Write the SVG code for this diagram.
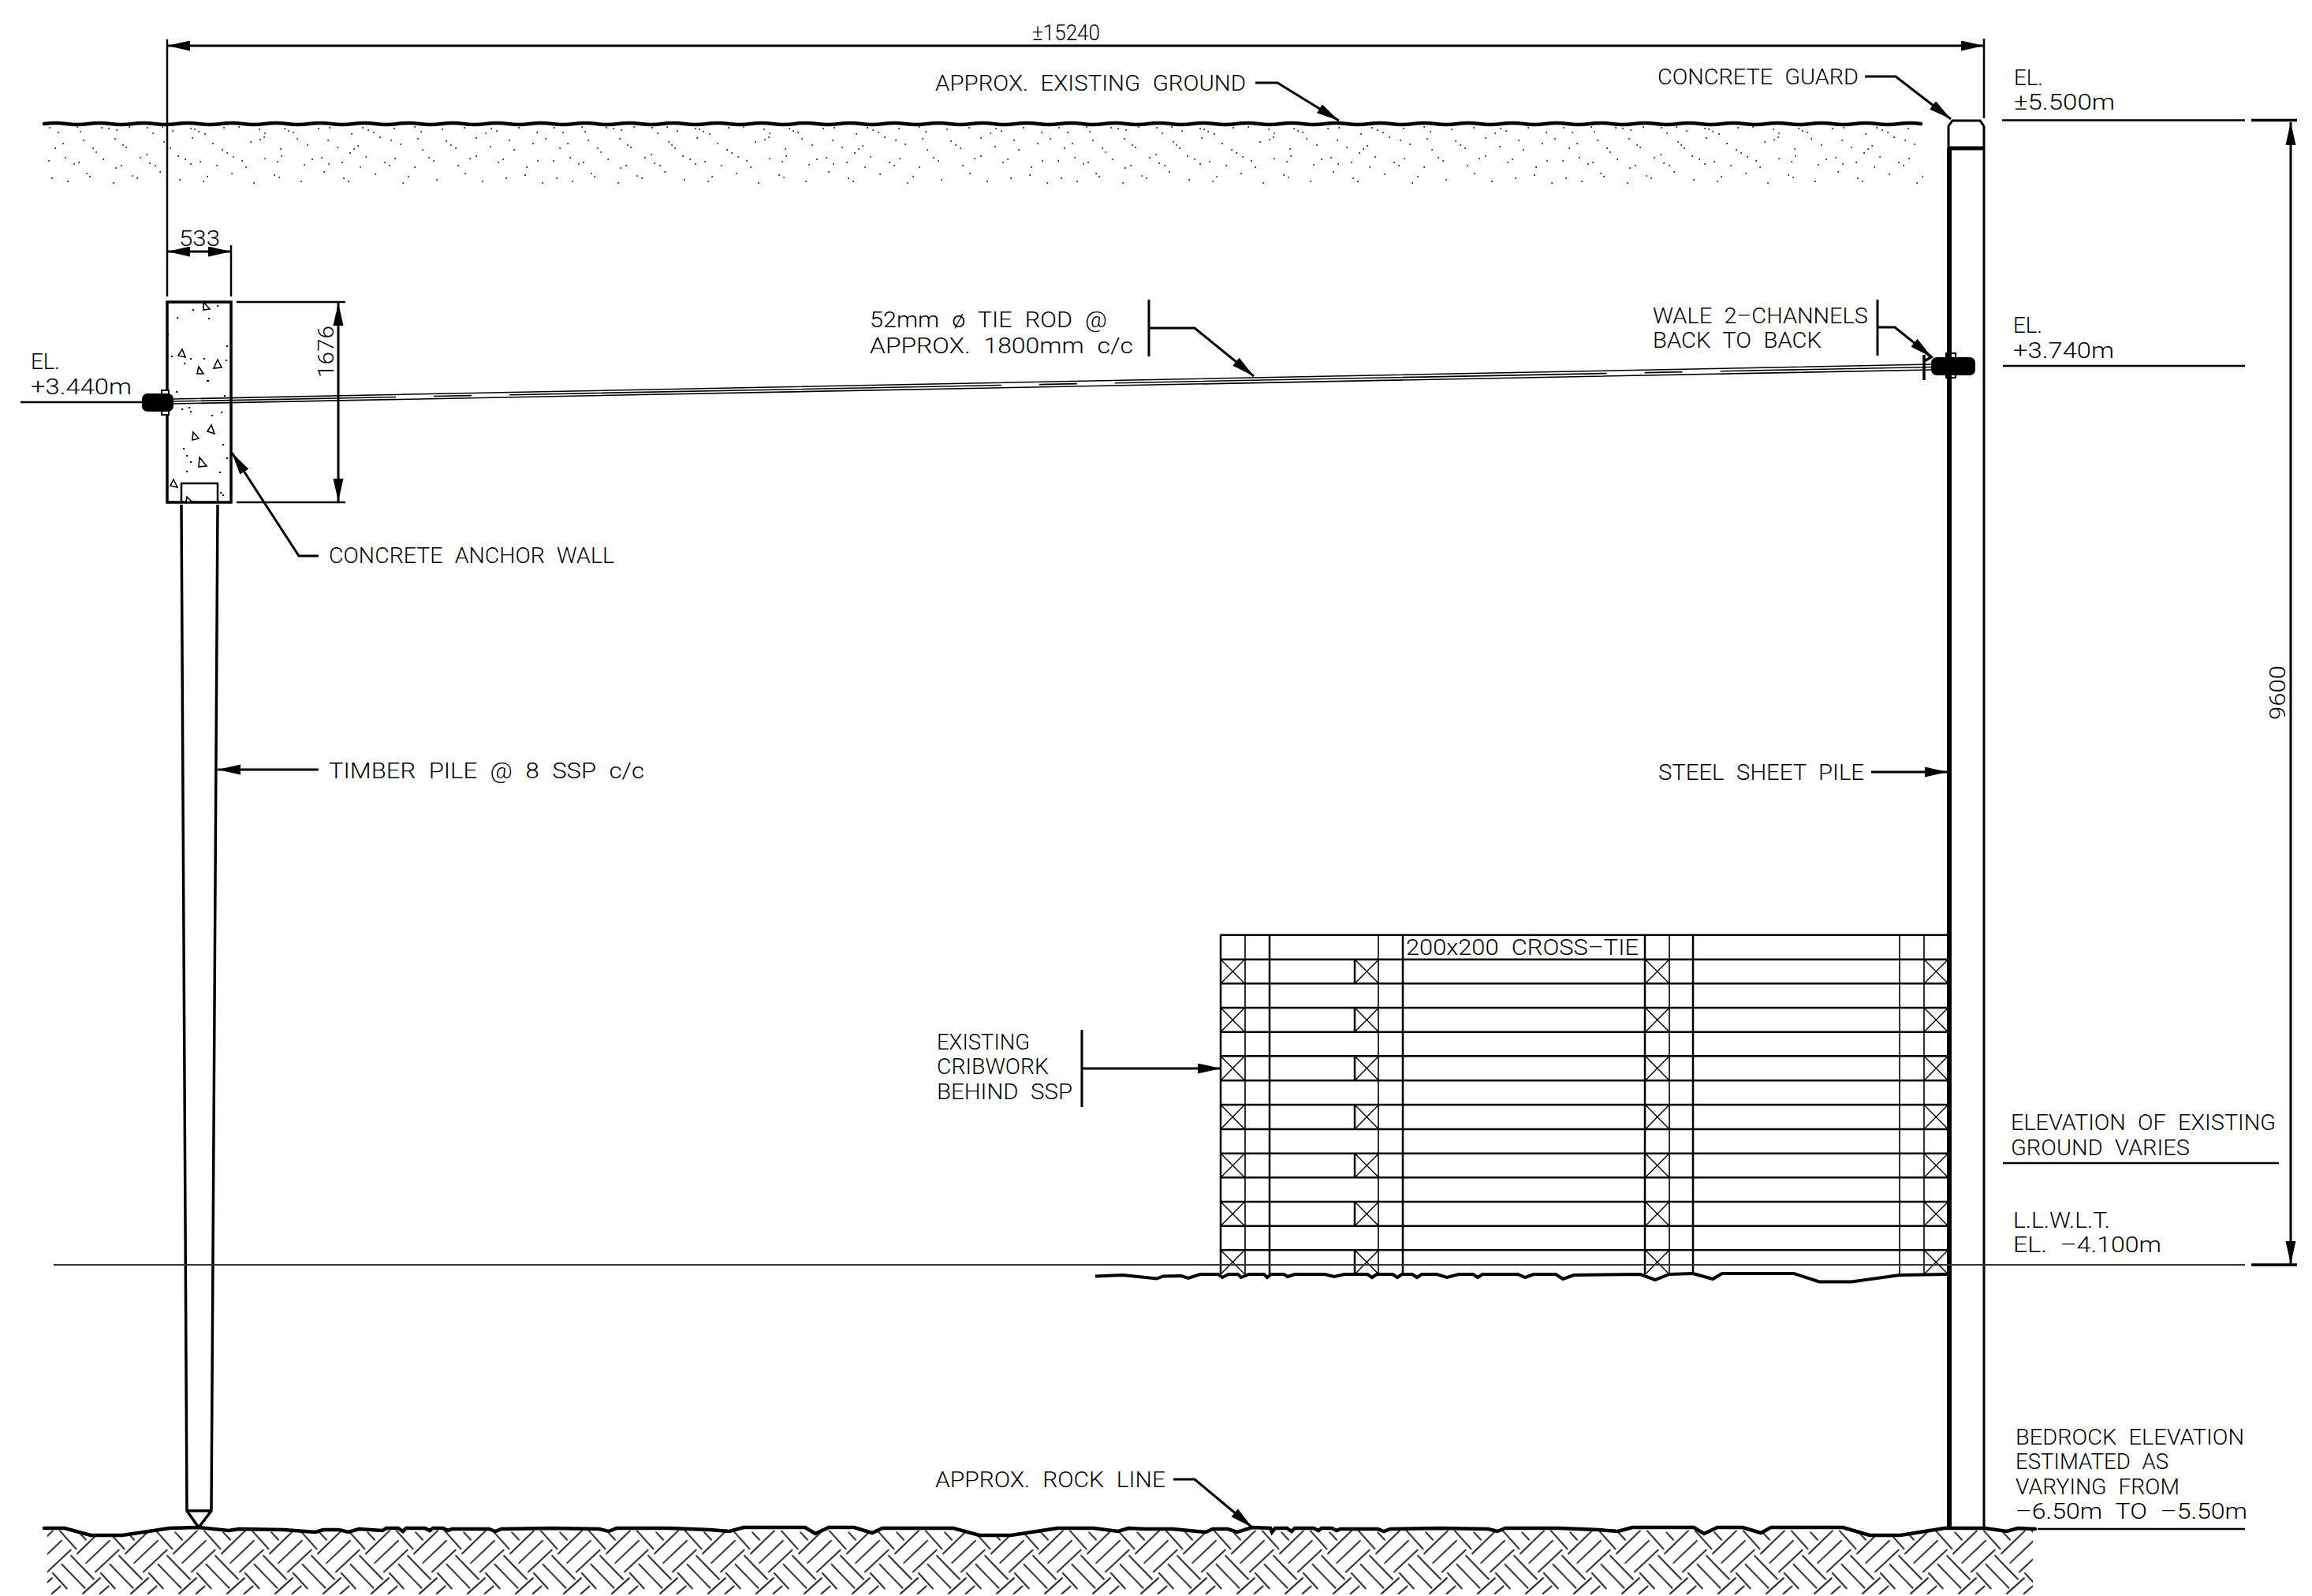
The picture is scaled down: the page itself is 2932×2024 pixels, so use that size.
<svg xmlns="http://www.w3.org/2000/svg" xmlns:xlink="http://www.w3.org/1999/xlink" width="2932" height="2024" viewBox="0 0 2932 2024">
<style>
text{font-family:Roboto,"Liberation Sans",sans-serif;font-weight:300;font-size:28px;fill:#000;word-spacing:8px}
.l{fill:none;stroke:#000;stroke-width:2.5}
.thin{fill:none;stroke:#000;stroke-width:1.6}
.thick{fill:none;stroke:#000;stroke-width:3.5}
.dim{fill:none;stroke:#000;stroke-width:3}
.arr{marker-end:url(#ah)}
.dbl{marker-start:url(#ahs);marker-end:url(#ah)}
.tri{fill:#fff;stroke:#000;stroke-width:1.6}
.nut{fill:#000}
.wash{fill:#fff;stroke:#000;stroke-width:2}
.box{fill:none;stroke:#000;stroke-width:1.4}
</style>
<defs>
<marker id="ah" markerUnits="userSpaceOnUse" markerWidth="30" markerHeight="14" refX="29" refY="6.5" orient="auto"><path d="M0 0L29 6.5L0 13z" fill="#000"/></marker>
<marker id="ahs" markerUnits="userSpaceOnUse" markerWidth="30" markerHeight="14" refX="0" refY="6.5" orient="auto"><path d="M29 0L0 6.5L29 13z" fill="#000"/></marker>
<path id="motif" fill="none" stroke="#000" stroke-width="1.7" d="M0 30.3L31.3 0M11.3 42L42.3 12.7M23 53.3L54 24.3M53.3 31.7L83.3 62.7M41.7 42.7L71.7 73.7M30 53.7L49 74.3M39 0L60.7 24.3M63.3 2L73.3 12.7M68 81L91.3 60M28.7 81L41 70.3"/>
<pattern id="herring" patternUnits="userSpaceOnUse" x="219.33" y="1940.67" width="61" height="84">
<use xlink:href="#motif" href="#motif"/><use xlink:href="#motif" href="#motif" x="-61"/>
</pattern>
<pattern id="stipple" patternUnits="userSpaceOnUse" x="56" y="160" width="640" height="74">
<path fill="none" stroke="#000" stroke-width="1.4" stroke-linecap="square" d="M7 2h.3M18 8h.3M42 1h.3M46 7h.3M73 2h.3M82 3h.3M92 5h.3M108 1h.3M131 2h.3M138 9h.3M150 1h.3M163 6h.3M186 3h.3M191 4h.3M196 7h.3M204 10h.3M228 2h.3M247 1h.3M273 4h.3M280 9h.3M305 3h.3M310 6h.3M316 8h.3M348 3h.3M362 2h.3M390 10h.3M404 2h.3M411 5h.3M418 8h.3M444 3h.3M470 1h.3M478 7h.3M505 4h.3M533 2h.3M560 9h.3M567 3h.3M574 6h.3M602 2h.3M625 8h.3M14 28h.3M24 22h.3M50 18h.3M62 28h.3M66 33h.3M90 16h.3M100 24h.3M104 27h.3M130 36h.3M152 20h.3M156 24h.3M160 28h.3M188 15h.3M214 22h.3M226 30h.3M232 34h.3M262 20h.3M274 17h.3M279 14h.3M300 29h.3M321 16h.3M334 24h.3M360 18h.3M372 27h.3M388 34h.3M393 29h.3M398 25h.3M426 14h.3M440 18h.3M452 23h.3M474 16h.3M480 30h.3M510 19h.3M516 24h.3M522 28h.3M548 15h.3M566 26h.3M590 18h.3M596 30h.3M620 22h.3M636 16h.3M6 44h.3M27 40h.3M38 48h.3M44 46h.3M75 42h.3M91 53h.3M98 50h.3M122 40h.3M134 47h.3M141 50h.3M170 38h.3M179 42h.3M186 48h.3M198 45h.3M219 50h.3M240 39h.3M251 44h.3M256 52h.3M280 41h.3M296 45h.3M301 38h.3M330 49h.3M340 42h.3M352 40h.3M361 48h.3M378 46h.3M401 52h.3M408 39h.3M432 46h.3M438 50h.3M445 41h.3M470 52h.3M488 40h.3M494 44h.3M525 50h.3M540 41h.3M548 38h.3M576 46h.3M582 42h.3M612 52h.3M626 44h.3M10 66h.3M30 70h.3M54 60h.3M58 64h.3M88 72h.3M112 63h.3M118 66h.3M147 58h.3M172 68h.3M202 70h.3M207 64h.3M238 60h.3M266 72h.3M292 62h.3M298 65h.3M326 70h.3M355 58h.3M380 66h.3M386 70h.3M420 61h.3M455 72h.3M462 64h.3M498 68h.3M534 60h.3M556 70h.3M586 66h.3M610 62h.3M632 72h.3"/>
</pattern>
<path id="xrow" class="box" d="M0 1216.700L30.500 1247.300M30.500 1216.700L0 1247.300M0 1278L30.500 1308.700M30.500 1278L0 1308.700M0 1339.300L30.500 1370.300M30.500 1339.300L0 1370.300M0 1401L30.500 1432M30.500 1401L0 1432M0 1462.700L30.500 1493.300M30.500 1462.700L0 1493.300M0 1524L30.500 1554.700M30.500 1524L0 1554.700M0 1585.300L30.500 1616M30.500 1585.300L0 1616"/>
<clipPath id="hatchclip"><path d="M60 1938H2578V2022H60z"/></clipPath>
</defs>
<rect width="2932" height="2024" fill="#fff"/>

<g id="existing-ground">
<rect x="56" y="160" width="2384" height="74" fill="url(#stipple)"/>
<path fill="none" stroke="#000" stroke-width="4.500" stroke-linecap="round" d="M56 157q14 -2 28 0t28 0 28 0 28 0 28 0 28 0 28 0 28 0 28 0 28 0 28 0 28 0 28 0 28 0 28 0 28 0 28 0 28 0 28 0 28 0 28 0 28 0 28 0 28 0 28 0 28 0 28 0 28 0 28 0 28 0 28 0 28 0 28 0 28 0 28 0 28 0 28 0 28 0 28 0 28 0 28 0 28 0 28 0 28 0 28 0 28 0 28 0 28 0 28 0 28 0 28 0 28 0 28 0 28 0 28 0 28 0 28 0 28 0 28 0 28 0 28 0 28 0 28 0 28 0 28 0 28 0 28 0 28 0 28 0 28 0 28 0 28 0 28 0 28 0 28 0 28 0 28 0 28 0 28 0 28 0 28 0 28 0 28 0 28 0 28 0"/>
</g>

<g id="rock">
<g clip-path="url(#hatchclip)"><rect x="60" y="1938" width="2518" height="86" fill="url(#herring)"/></g>
<path fill="#fff" stroke="#000" stroke-width="4.500" stroke-linecap="round" d="M56 1938L82 1938 115 1947 155 1947 215 1938 252 1937 290 1941 303 1939 360 1940 400 1943 410 1940 430 1940 442 1943 455 1939 485 1941 490 1938 505 1938 511 1942 515 1938 539 1938 545 1941 549 1938 562 1938 568 1941 573 1939 620 1939 628 1942 636 1939 700 1938 760 1939 772 1942 782 1938 850 1938 900 1940 925 1942 943 1937 1021 1937 1034 1945 1051 1937 1083 1937 1106 1944 1119 1938 1209 1938 1242 1947 1282 1947 1341 1938 1387 1938 1418 1942 1431 1938 1452 1939 1487 1939 1529 1943 1538 1939 1557 1939 1569 1943 1588 1937 1611 1938 1613 1943 1617 1938 1632 1938 1638 1942 1642 1938 1666 1938 1672 1941 1676 1938 1689 1938 1695 1941 1700 1939 1747 1939 1755 1942 1763 1939 1827 1938 1887 1939 1899 1942 1909 1938 1977 1938 2027 1940 2052 1942 2070 1937 2148 1937 2161 1945 2178 1937 2210 1937 2233 1944 2246 1937 2337 1937 2371 1947 2410 1947 2466 1938 2517 1938 2545 1942 2559 1938 2581 1939"/>
</g>

<g id="timber-pile">
<path class="thick" d="M230 640L237 1916L252 1937L268 1916L276 640"/>
<path class="thick" d="M237 1916H268"/>
<path class="l" d="M230 637V613H276V637"/>
</g>

<g id="concrete-anchor-wall">
<rect x="212" y="383" width="81" height="254" fill="none" stroke="#000" stroke-width="3.500"/>
<path class="tri" d="M258 383L266 392L258 393zM231 443L235 453L226 451zM276 456L281 466L271 467zM252 465L258 474L250 474zM268 539L272 550L263 547zM245 548L252 556L244 558zM253 580L262 591L252 592zM220 608L225 618L216 616zM237 630L243 636L236 637z"/>
<path fill="none" stroke="#000" stroke-width="1.800" stroke-linecap="square" d="M245 393h.3M276 388h.3M225 403h.3M265 404h.3M213 424h.3M288 439h.3M218 452h.3M242 455h.3M259 455h.3M287 457h.3M234 461h.3M264 483h.3M263 483h.3M224 497h.3M285 502h.3M231 519h.3M240 517h.3M242 522h.3M281 523h.3M269 527h.3M283 564h.3M233 569h.3M237 578h.3M288 581h.3M242 586h.3M237 598h.3M279 599h.3M280 625h.3M283 628h.3"/>
</g>

<g id="tie-rod">
<path class="thin" d="M220 506L2449 462M220 512L2449 469"/>
<path class="thin" stroke-dasharray="624 48 48 48" stroke-dashoffset="342" d="M220 509L2449 465.500"/>
<rect class="wash" x="205" y="495" width="9" height="31"/>
<rect class="nut" x="180" y="499" width="40" height="23" rx="7"/>
<path class="thick" d="M2440 450V482"/>
<path class="thick" d="M2440 458L2449 453L2442 447"/>
<rect class="wash" x="2468" y="448" width="12" height="31"/>
<rect class="nut" x="2449" y="453" width="56" height="23" rx="7"/>
</g>

<g id="cribwork">
<path class="l" d="M1548 1185.700H2470M1548 1216.700H2470M1548 1247.300H2470M1548 1278H2470M1548 1308.700H2470M1548 1339.300H2470M1548 1370.300H2470M1548 1401H2470M1548 1432H2470M1548 1462.700H2470M1548 1493.300H2470M1548 1524H2470M1548 1554.700H2470M1548 1585.300H2470"/>
<path class="l" d="M1548 1185V1616M1610 1185V1616M1779 1185V1616M2086 1185V1616M2147 1185V1616"/>
<path class="thin" d="M1579 1185V1616M1748 1185V1616M2117 1185V1616M2409 1185V1616M2440 1185V1616"/>
<path class="l" d="M1718 1216.700V1247.300M1718 1278V1308.700M1718 1339.300V1370.300M1718 1401V1432M1718 1462.700V1493.300M1718 1524V1554.700M1718 1585.300V1616"/>
<use xlink:href="#xrow" href="#xrow" x="1548"/>
<use xlink:href="#xrow" href="#xrow" x="1718"/>
<use xlink:href="#xrow" href="#xrow" x="2086.500"/>
<use xlink:href="#xrow" href="#xrow" x="2440"/>
<path fill="none" stroke="#000" stroke-width="4" d="M1389 1618.500L1424 1617 1467 1621.500 1475 1618.500 1498 1618 1507 1621 1522 1616 1545 1616 1550 1620 1558 1616 1570 1616 1574 1620 1584 1616 1603 1616 1607 1620 1612 1616 1628 1616 1633 1619 1642 1616 1680 1616 1692 1619 1705 1616 1734 1616 1740 1620 1746 1616 1766 1616 1772 1620 1778 1616 1791 1616 1797 1620 1803 1616 1822 1616 1835 1620 1850 1616 1868 1616 1874 1620 1880 1616 1925 1616 1934 1620 1945 1616 1973 1616 1982 1622 1996 1617 2080 1616 2099 1623 2117 1616 2147 1615 2172 1622 2184 1615 2275 1615 2307 1625.500 2348 1625.500 2409 1617 2470 1616"/>
</g>

<g id="steel-sheet-pile">
<path fill="none" stroke="#000" stroke-width="6" d="M2472 188V1938"/>
<path fill="none" stroke="#000" stroke-width="3" d="M2516 160V1938"/>
<path fill="none" stroke="#000" stroke-width="3" d="M2471 190V160L2476 153H2511L2516 160"/>
<path fill="none" stroke="#000" stroke-width="5" d="M2472 188H2516"/>
</g>

<g id="connectors">
<path class="l" d="M212 50V376M2516 49V150M293 311V376M300 383H438M300 637H438"/>
<path class="dim dbl" d="M212 58H2516"/>
<path class="dim dbl" d="M212 319H293"/>
<path class="dim dbl" d="M429 384V636"/>
<path class="dim dbl" d="M2905 155V1603"/>
<path class="thick" d="M2855 152.500H2913M2855 1604H2913"/>
<path class="l" d="M2539 152.500H2847M2540 464H2847M2540 1475H2890M26 510H190M2584 1939H2847"/>
<path fill="none" stroke="#333" stroke-width="2" d="M68 1604H2847"/>
<path class="dim arr" d="M1592 105H1620L1698 153"/>
<path class="dim arr" d="M2365 97H2404L2474 151"/>
<path class="dim arr" d="M1457 416H1515L1590 477"/>
<path class="dim" d="M1457 380V452"/>
<path class="dim arr" d="M2381 415H2403L2450 453"/>
<path class="dim" d="M2381 380V451"/>
<path class="dim arr" d="M404 705H379L294 574"/>
<path class="dim arr" d="M404 976H276"/>
<path class="dim arr" d="M2373 979H2470"/>
<path class="dim arr" d="M1372 1355H1548"/>
<path class="dim" d="M1372 1306V1404"/>
<path class="dim arr" d="M1488 1876H1515L1588 1937"/>
</g>

<g id="labels">
<text x="1309" y="51" textLength="86" lengthAdjust="spacingAndGlyphs">±15240</text>
<text x="1186" y="115" textLength="394" lengthAdjust="spacingAndGlyphs">APPROX. EXISTING GROUND</text>
<text x="2102" y="107" textLength="255" lengthAdjust="spacingAndGlyphs">CONCRETE GUARD</text>
<text x="2554" y="108" textLength="37" lengthAdjust="spacingAndGlyphs">EL.</text>
<text x="2554" y="139" textLength="128" lengthAdjust="spacingAndGlyphs">±5.500m</text>
<text x="227" y="312" textLength="52" lengthAdjust="spacingAndGlyphs">533</text>
<text transform="translate(423 479) rotate(-90)" textLength="66" lengthAdjust="spacingAndGlyphs">1676</text>
<text x="39" y="468" textLength="37" lengthAdjust="spacingAndGlyphs">EL.</text>
<text x="39" y="500" textLength="128" lengthAdjust="spacingAndGlyphs">+3.440m</text>
<text x="1103" y="415" textLength="301" lengthAdjust="spacingAndGlyphs">52mm ø TIE ROD @</text>
<text x="1103" y="448" textLength="334" lengthAdjust="spacingAndGlyphs">APPROX. 1800mm c/c</text>
<text x="2096" y="410" textLength="273" lengthAdjust="spacingAndGlyphs">WALE 2–CHANNELS</text>
<text x="2096" y="441" textLength="214" lengthAdjust="spacingAndGlyphs">BACK TO BACK</text>
<text x="2553" y="422" textLength="37" lengthAdjust="spacingAndGlyphs">EL.</text>
<text x="2553" y="453.500" textLength="128" lengthAdjust="spacingAndGlyphs">+3.740m</text>
<text x="417" y="714" textLength="362" lengthAdjust="spacingAndGlyphs">CONCRETE ANCHOR WALL</text>
<text x="417" y="987" textLength="400" lengthAdjust="spacingAndGlyphs">TIMBER PILE @ 8 SSP c/c</text>
<text x="2103" y="989" textLength="261" lengthAdjust="spacingAndGlyphs">STEEL SHEET PILE</text>
<text transform="translate(2898 913) rotate(-90)" textLength="69" lengthAdjust="spacingAndGlyphs">9600</text>
<text x="1783" y="1211" textLength="295" lengthAdjust="spacingAndGlyphs">200x200 CROSS–TIE</text>
<text x="1188" y="1331" textLength="118" lengthAdjust="spacingAndGlyphs">EXISTING</text>
<text x="1188" y="1362" textLength="142" lengthAdjust="spacingAndGlyphs">CRIBWORK</text>
<text x="1188" y="1394" textLength="172" lengthAdjust="spacingAndGlyphs">BEHIND SSP</text>
<text x="2550" y="1433" textLength="336" lengthAdjust="spacingAndGlyphs">ELEVATION OF EXISTING</text>
<text x="2550" y="1465" textLength="227" lengthAdjust="spacingAndGlyphs">GROUND VARIES</text>
<text x="2553" y="1557" textLength="123" lengthAdjust="spacingAndGlyphs">L.L.W.L.T.</text>
<text x="2553" y="1588" textLength="188" lengthAdjust="spacingAndGlyphs">EL. –4.100m</text>
<text x="2556" y="1832" textLength="290" lengthAdjust="spacingAndGlyphs">BEDROCK ELEVATION</text>
<text x="2556" y="1863" textLength="194" lengthAdjust="spacingAndGlyphs">ESTIMATED AS</text>
<text x="2556" y="1895" textLength="208" lengthAdjust="spacingAndGlyphs">VARYING FROM</text>
<text x="2556" y="1926" textLength="294" lengthAdjust="spacingAndGlyphs">–6.50m TO –5.50m</text>
<text x="1186" y="1886" textLength="292" lengthAdjust="spacingAndGlyphs">APPROX. ROCK LINE</text>
</g>
</svg>
